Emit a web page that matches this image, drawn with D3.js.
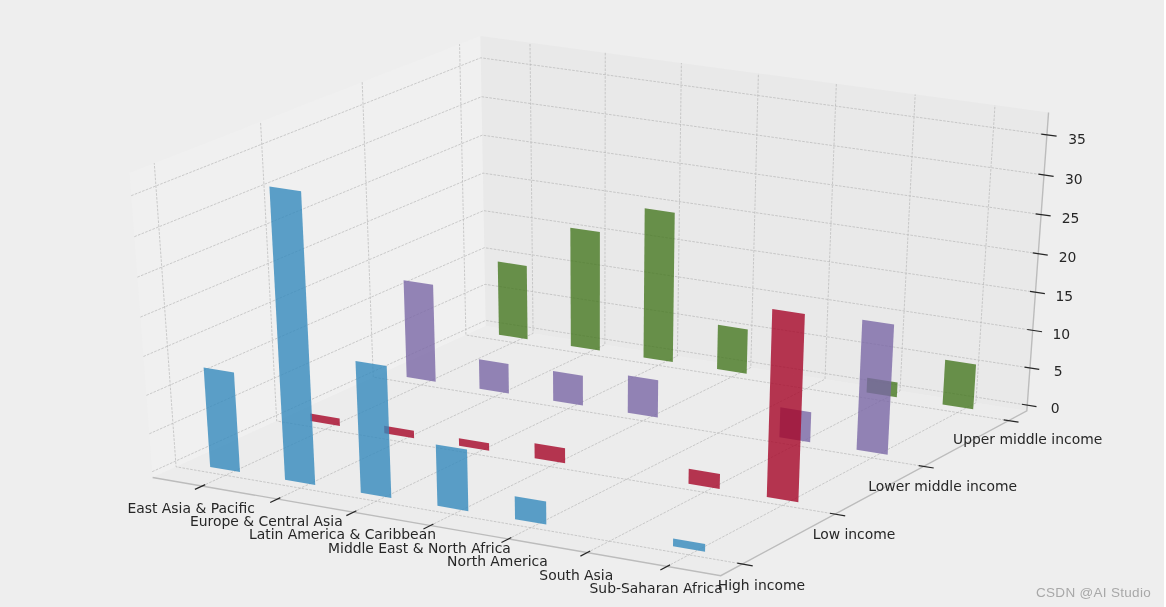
<!DOCTYPE html>
<html>
<head>
<meta charset="utf-8">
<script src="https://cdn.jsdelivr.net/npm/d3@7"></script>
<style>
  html, body { margin: 0; padding: 0; background: #fff; overflow: hidden; }
  text { font-family: "DejaVu Sans", sans-serif; }
  /* the reference is a slightly soft upscaled screenshot */
  #chart { display: block; filter: blur(0.4px); }
</style>
</head>
<body>
<svg id="chart" width="1166" height="607"></svg>
<script>
var regions = ["East Asia & Pacific", "Europe & Central Asia", "Latin America & Caribbean",
  "Middle East & North Africa", "North America", "South Asia", "Sub-Saharan Africa"];
var incomes = ["High income", "Low income", "Lower middle income", "Upper middle income"];
var zTicks = [0, 5, 10, 15, 20, 25, 30, 35];

var highIncome = [13, 37, 17, 8, 3, 0, 1];
var lowIncome = [1, 1, 1, 2, 0, 2, 24];
var lowerMiddle = [13, 4, 4, 5, 0, 4, 17];
var upperMiddle = [10, 16, 20, 6, 0, 2, 6];

var seriesColors = ["#348ABD", "#A60628", "#7A68A6", "#467821"];
var seriesValues = [highIncome, lowIncome, lowerMiddle, upperMiddle];

var width = 1166, height = 607;
var barWidth = 0.4;

// axis limits, data to unit cube
var xLim = [-0.665, 6.665], yLim = [-0.227, 3.22], zLim = [-0.77, 37.77];
var xWorld = d3.scaleLinear().domain(xLim).range([0, 1]);
var yWorld = d3.scaleLinear().domain(yLim).range([0, 1]);
var zWorld = d3.scaleLinear().domain(zLim).range([0, 1]);

// view plane to pixels
var xScreen = d3.scaleLinear().domain([-0.0677, 0.0656]).range([152.5, 1026.7]);
var yScreen = d3.scaleLinear().domain([-0.0802, 0.0749]).range([575.7, 36]);

// same camera as a default mplot3d axes: elev 30, azim -60, dist 10
var elev = 30 * Math.PI / 180, azim = -60 * Math.PI / 180, dist = 10;
var n = [Math.cos(elev) * Math.cos(azim), Math.cos(elev) * Math.sin(azim), Math.sin(elev)];
var nLen = Math.hypot(n[1], n[0]);
var u = [-n[1] / nLen, n[0] / nLen, 0];
var v = [n[1] * u[2] - n[2] * u[1], n[2] * u[0] - n[0] * u[2], n[0] * u[1] - n[1] * u[0]];

function dot(a, b) {
  return a[0] * b[0] + a[1] * b[1] + a[2] * b[2];
}

function project(x, y, z) {
  var p = [xWorld(x) - 0.5, yWorld(y) - 0.5, zWorld(z) - 0.5];
  var w = dist - dot(n, p);
  return [xScreen(dot(u, p) / w), yScreen(dot(v, p) / w)];
}

var svg = d3.select("#chart");
var line3d = d3.line();

function path3d(points) {
  return line3d(points.map(function(d) {
    return project(d[0], d[1], d[2]);
  }));
}

svg.append("rect").attr("width", 1164).attr("height", height).attr("fill", "#eeeeee");

// panes
var panes = [
  { fill: "#f0f0f0", pts: [[xLim[0], yLim[0], zLim[0]], [xLim[0], yLim[1], zLim[0]], [xLim[0], yLim[1], zLim[1]], [xLim[0], yLim[0], zLim[1]]] },
  { fill: "#e9e9e9", pts: [[xLim[0], yLim[1], zLim[0]], [xLim[1], yLim[1], zLim[0]], [xLim[1], yLim[1], zLim[1]], [xLim[0], yLim[1], zLim[1]]] },
  { fill: "#ececec", pts: [[xLim[0], yLim[0], zLim[0]], [xLim[1], yLim[0], zLim[0]], [xLim[1], yLim[1], zLim[0]], [xLim[0], yLim[1], zLim[0]]] }
];
svg.append("g").selectAll("path").data(panes).enter().append("path")
  .attr("d", function(d) { return path3d(d.pts) + "Z"; })
  .attr("fill", function(d) { return d.fill; });

// grid lines
var gridG = svg.append("g")
  .attr("fill", "none")
  .attr("stroke", "#b8b8b8")
  .attr("stroke-width", 0.7)
  .attr("stroke-dasharray", "2.6,1.3");

regions.forEach(function(_, i) {
  gridG.append("path").attr("d", path3d([[i, yLim[0], zLim[0]], [i, yLim[1], zLim[0]], [i, yLim[1], zLim[1]]]));
});
incomes.forEach(function(_, k) {
  gridG.append("path").attr("d", path3d([[xLim[1], k, zLim[0]], [xLim[0], k, zLim[0]], [xLim[0], k, zLim[1]]]));
});
zTicks.forEach(function(z) {
  gridG.append("path").attr("d", path3d([[xLim[0], yLim[0], z], [xLim[0], yLim[1], z], [xLim[1], yLim[1], z]]));
});

// axis lines
var axisG = svg.append("g").attr("fill", "none").attr("stroke", "#bcbcbc").attr("stroke-width", 1.4);
axisG.append("path").attr("d", path3d([[xLim[0], yLim[0], zLim[0]], [xLim[1], yLim[0], zLim[0]], [xLim[1], yLim[1], zLim[0]], [xLim[1], yLim[1], zLim[1]]]));

// tick marks
var tickG = svg.append("g").attr("fill", "none").attr("stroke", "#262626").attr("stroke-width", 1.2);
regions.forEach(function(_, i) {
  tickG.append("path").attr("d", path3d([[i, yLim[0] + 0.03, zLim[0]], [i, yLim[0] - 0.07, zLim[0]]]));
});
incomes.forEach(function(_, k) {
  tickG.append("path").attr("d", path3d([[xLim[1] - 0.064, k, zLim[0]], [xLim[1] + 0.128, k, zLim[0]]]));
});
zTicks.forEach(function(z) {
  tickG.append("path").attr("d", path3d([[xLim[1] - 0.07, yLim[1], z], [xLim[1] + 0.12, yLim[1], z]]));
});

// bars, back row first
d3.range(seriesValues.length - 1, -1, -1).forEach(function(k) {
  var barG = svg.append("g");
  seriesValues[k].forEach(function(d, i) {
    if (d === 0) return;
    barG.append("path")
      .attr("d", path3d([
        [i - barWidth / 2, k, 0], [i + barWidth / 2, k, 0],
        [i + barWidth / 2, k, d], [i - barWidth / 2, k, d]
      ]) + "Z")
      .attr("fill", seriesColors[k])
      .attr("fill-opacity", 0.8);
  });
});

// labels
var labelG = svg.append("g").attr("fill", "#262626").attr("font-size", 13.9).attr("text-anchor", "middle");
regions.forEach(function(d, i) {
  var p = project(i, yLim[0], zLim[0]);
  labelG.append("text").attr("x", p[0] - 11).attr("y", p[1] + 27).text(d);
});
incomes.forEach(function(d, k) {
  var p = project(xLim[1], k, zLim[0]);
  labelG.append("text").attr("x", p[0] + 19).attr("y", p[1] + 26 - k * 0.9).text(d);
});
zTicks.forEach(function(z) {
  var p = project(xLim[1], yLim[1], z);
  labelG.append("text").attr("x", p[0] + 28 + z * 0.06).attr("y", p[1] + 8 + z * 0.03).text(z);
});

svg.append("text")
  .attr("x", 1151).attr("y", 597)
  .attr("text-anchor", "end")
  .attr("font-size", 13.5)
  .attr("letter-spacing", 0.3)
  .attr("fill", "#a8a8a8")
  .style("font-family", "'Liberation Sans', sans-serif")
  .text("CSDN @AI Studio");
</script>
</body>
</html>
